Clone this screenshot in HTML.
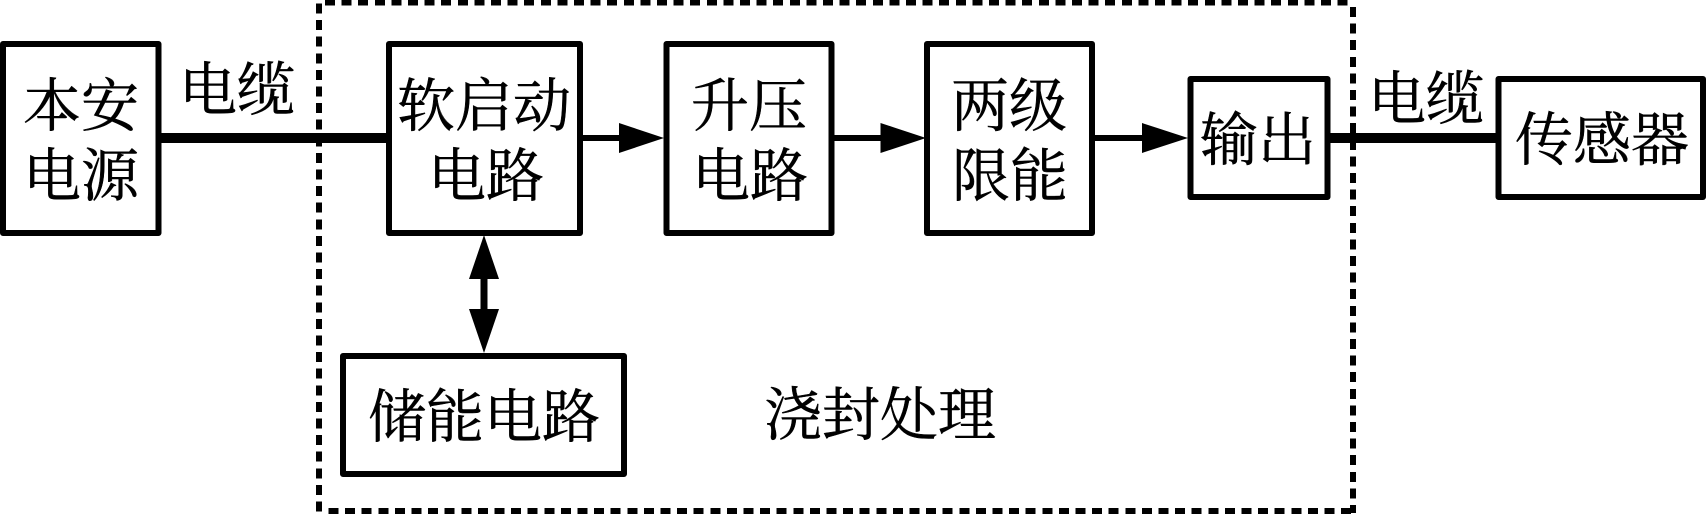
<!DOCTYPE html>
<html lang="zh">
<head>
<meta charset="utf-8">
<title>框图</title>
<style>
html,body{margin:0;padding:0;background:#fff;width:1706px;height:515px;overflow:hidden}
svg{display:block}
text{font-family:"Liberation Serif","Noto Serif CJK SC",serif;font-size:58px;fill:#000;stroke:#000;stroke-width:.5px;text-anchor:middle}
</style>
</head>
<body>
<svg width="1706" height="515" viewBox="0 0 1706 515" xmlns="http://www.w3.org/2000/svg">
<!-- dashed enclosure -->
<g stroke="#000" stroke-width="6" fill="none" stroke-dasharray="10 6.6" shape-rendering="crispEdges">
<path d="M325 2.7H1353"/>
<path d="M328.5 510.8H1356"/>
<path d="M319 3.5V513"/>
<path d="M1353 7V513"/>
</g>
<!-- boxes -->
<g fill="none" stroke="#000" stroke-width="6" stroke-linejoin="round">
<rect x="3" y="44" width="155.5" height="189"/>
<rect x="389" y="44" width="191" height="189"/>
<rect x="666.5" y="44" width="165" height="189"/>
<rect x="927" y="44" width="165" height="189"/>
<rect x="1190.500" y="79" width="137" height="118"/>
<rect x="1498.500" y="79" width="204.500" height="118"/>
<rect x="343" y="356" width="281" height="118"/>
</g>
<!-- connectors -->
<g fill="#000" shape-rendering="crispEdges">
<rect x="160" y="133" width="228" height="10"/>
<rect x="1329" y="133" width="168" height="10"/>
<rect x="582" y="135" width="40" height="6"/>
<rect x="834" y="135" width="50" height="6"/>
<rect x="1094" y="135" width="50" height="6"/>
<rect x="480.500" y="275" width="7" height="38"/>
</g>
<g fill="#000">
<polygon points="619,123 664,138 619,153"/>
<polygon points="880.500,123 926,138 880.500,153"/>
<polygon points="1142,123 1188,138 1142,153"/>
<polygon points="484,235 499,279 469,279"/>
<polygon points="469,309 499,309 484,353"/>
</g>
<!-- labels -->
<text x="81" y="126">本安</text>
<text x="81" y="196">电源</text>
<text x="237" y="110">电缆</text>
<text x="484" y="126">软启动</text>
<text x="486" y="196">电路</text>
<text x="749" y="126">升压</text>
<text x="750" y="196">电路</text>
<text x="1009" y="126">两级</text>
<text x="1010" y="196">限能</text>
<text x="1258" y="160">输出</text>
<text x="1426" y="119">电缆</text>
<text x="1602" y="160">传感器</text>
<text x="484" y="437">储能电路</text>
<text x="880" y="435">浇封处理</text>
</svg>
</body>
</html>
